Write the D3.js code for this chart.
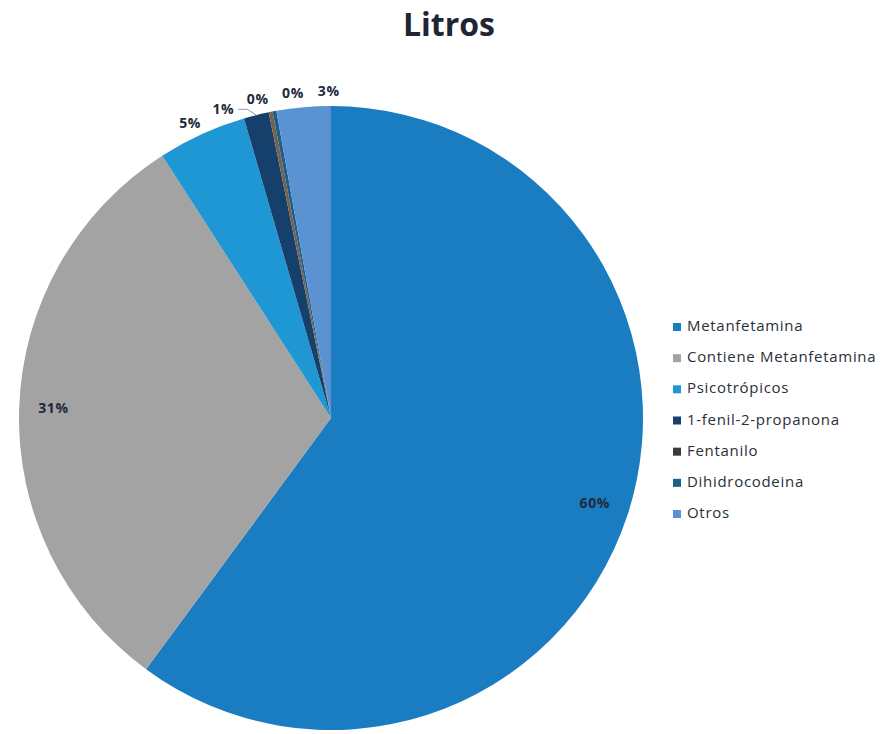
<!DOCTYPE html>
<html>
<head>
<meta charset="utf-8">
<script src="https://cdn.jsdelivr.net/npm/d3@7/dist/d3.min.js"></script>
<style>
  html, body { margin: 0; padding: 0; background: #ffffff; }
  svg { display: block; }
</style>
</head>
<body>
<svg id="chart" width="886" height="734"></svg>
<script>
// ---- data ----
const title = "Litros";
const categories = ["Metanfetamina", "Contiene Metanfetamina", "Psicotrópicos", "1-fenil-2-propanona", "Fentanilo", "Dihidrocodeina", "Otros"];
const values = [60.1, 30.8, 4.6, 1.3, 0.2, 0.2, 2.8];
const sliceColors = ["#1a7cc1", "#a3a3a3", "#1f97d4", "#15406b", "#7a5f4a", "#1d5f8a", "#5b93d2"];
const legendColors = ["#1a7cc1", "#a3a3a3", "#1f97d4", "#15406b", "#3a3a3a", "#1d5f8a", "#5b93d2"];

// ---- layout ----
const svg = d3.select("#chart");
const cx = 331, cy = 418, r = 312;
const font = "'Open Sans', 'Lato', sans-serif";

svg.append("text")
  .attr("x", 449).attr("y", 36)
  .attr("text-anchor", "middle")
  .attr("font-family", font)
  .attr("font-weight", 700)
  .attr("font-size", 32)
  .attr("fill", "#1f2533")
  .text(title);

const data = categories.map((c, i) => ({ name: c, value: values[i], color: sliceColors[i], legend: legendColors[i] }));
const total = d3.sum(values);

const pie = d3.pie().sort(null).value(d => d.value);
const arcs = pie(data);
const arcGen = d3.arc().innerRadius(0).outerRadius(r);

const g = svg.append("g").attr("transform", `translate(${cx},${cy})`);
g.selectAll("path.slice")
  .data(arcs)
  .enter().append("path")
  .attr("class", "slice")
  .attr("d", arcGen)
  .attr("fill", d => d.data.color);

const pctFmt = v => Math.round(v / total * 100) + "%";

// inside labels for large slices
const insideArc = d3.arc().innerRadius(r * 0.89).outerRadius(r * 0.89);
const inside = arcs.filter(d => d.data.value / total >= 0.1);
g.selectAll("text.in")
  .data(inside)
  .enter().append("text")
  .attr("class", "in")
  .attr("transform", d => `translate(${insideArc.centroid(d)})`)
  .attr("text-anchor", "middle")
  .attr("dominant-baseline", "middle")
  .attr("font-family", font)
  .attr("font-weight", 700)
  .attr("font-size", 14)
  .attr("letter-spacing", 0.6)
  .attr("fill", "#1e2a3a")
  .text(d => pctFmt(d.data.value));

// outside labels for small slices, relaxed along the circle
const outside = arcs.filter(d => d.data.value / total < 0.1).map(d => {
  const mid = (d.startAngle + d.endAngle) / 2;
  return { d, mid, ang: mid };
});
outside.sort((a, b) => a.mid - b.mid);
const minGap = 6.3 * Math.PI / 180;
for (let it = 0; it < 300; it++) {
  for (let i = 0; i < outside.length - 1; i++) {
    const gap = outside[i + 1].ang - outside[i].ang;
    if (gap < minGap) {
      const push = (minGap - gap) / 2;
      outside[i].ang -= push;
      outside[i + 1].ang += push;
    }
  }
}
const R = r + 14;
outside.forEach(o => {
  o.x = Math.sin(o.ang) * R;
  o.y = -Math.cos(o.ang) * R;
});

// leader lines where label moved far from its slice
const lead = outside.filter(o => Math.abs(o.ang - o.mid) > 5 * Math.PI / 180);
g.selectAll("polyline.lead")
  .data(lead)
  .enter().append("polyline")
  .attr("class", "lead")
  .attr("fill", "none")
  .attr("stroke", "#9a9a9a")
  .attr("stroke-width", 1)
  .attr("points", o => {
    const ex = Math.sin(o.mid) * r, ey = -Math.cos(o.mid) * r;
    const sx = o.x + 15, sy = o.y - 1;
    return [[sx, sy], [sx + 9, sy], [ex, ey]].map(p => p.join(",")).join(" ");
  });

g.selectAll("text.out")
  .data(outside)
  .enter().append("text")
  .attr("class", "out")
  .attr("x", o => o.x)
  .attr("y", o => o.y)
  .attr("text-anchor", "middle")
  .attr("dominant-baseline", "middle")
  .attr("font-family", font)
  .attr("font-weight", 700)
  .attr("font-size", 14)
  .attr("letter-spacing", 0.6)
  .attr("fill", "#1e2a3a")
  .text(o => pctFmt(o.d.data.value));

// legend
const legendY = d3.scalePoint().domain(categories).range([327, 514]);
const lg = svg.append("g");
const items = lg.selectAll("g.item")
  .data(data)
  .enter().append("g")
  .attr("class", "item")
  .attr("transform", d => `translate(673,${legendY(d.name)})`);
items.append("rect")
  .attr("x", 0).attr("y", -4)
  .attr("width", 8).attr("height", 8)
  .attr("fill", d => d.legend);
items.append("text")
  .attr("x", 14).attr("y", 0)
  .attr("dominant-baseline", "middle")
  .attr("font-family", font)
  .attr("font-size", 15)
  .attr("letter-spacing", 0.7)
  .attr("fill", "#2a2f38")
  .text(d => d.name);
</script>
</body>
</html>
